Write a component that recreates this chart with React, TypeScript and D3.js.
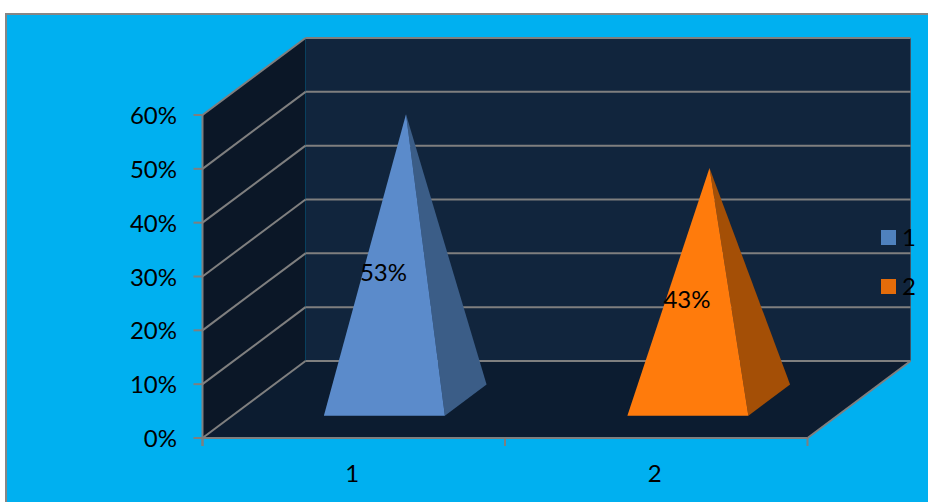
import React from "react";
import * as d3 from "d3";

const categories = ["1", "2"];
const values = [0.53, 0.43];
const valueLabels = ["53%", "43%"];
const yTicks = [0, 0.1, 0.2, 0.3, 0.4, 0.5, 0.6];
const frontFaces = ["#5B8BCB", "#FF7B0C"];
const sideFaces = ["#3B5D87", "#A44F06"];
const legendSwatches = ["#4F81BD", "#E46C0A"];

const WIDTH = 928;
const HEIGHT = 502;
const FONT = "Lato, 'Noto Sans', sans-serif";
const FONT_SIZE = 24;
const GRID = "#7F7F7F";

// Oblique projection: depth 0 is the front of the box, depth 1 the back wall.
const DEPTH_X = 103;
const DEPTH_Y = -77;
const x = d3.scaleBand<string>().domain(categories).range([202.5, 807.5]);
// Pyramids sit slightly off the axis band centres.
const xPyramid = d3.scaleBand<string>().domain(categories).range([202.75, 809.75]);
const y = d3.scaleLinear().domain([0, 0.6]).range([438, 115]);
const project = (px: number, py: number, depth: number): [number, number] => [
  px + depth * DEPTH_X,
  py + depth * DEPTH_Y,
];
const poly = (pts: [number, number][]) => (d3.line()(pts) ?? "") + "Z";

const BASE_HALF_WIDTH = 60.5;
const BASE_FRONT = 0.29;
const BASE_BACK = 0.695;
const BASE_MID = 0.5;

function Pyramid({ index }: { index: number }) {
  const cx = (xPyramid(categories[index]) ?? 0) + xPyramid.bandwidth() / 2;
  const frontLeft = project(cx - BASE_HALF_WIDTH, y(0), BASE_FRONT);
  const frontRight = project(cx + BASE_HALF_WIDTH, y(0), BASE_FRONT);
  const backRight = project(cx + BASE_HALF_WIDTH, y(0), BASE_BACK);
  const apex = project(cx, y(values[index]), BASE_MID);
  return (
    <g>
      <path d={poly([frontRight, backRight, apex])} fill={sideFaces[index]} />
      <path d={poly([frontLeft, frontRight, apex])} fill={frontFaces[index]} />
      <text
        x={cx + 29}
        y={(apex[1] + frontLeft[1]) / 2 + 16.5}
        textAnchor="middle"
        fontSize={FONT_SIZE}
        fontFamily={FONT}
        fill="#000"
      >
        {valueLabels[index]}
      </text>
    </g>
  );
}

export default function App() {
  const [x0, x1] = x.range();
  const y0 = y(0);
  const yTop = y(0.6);
  const back = (px: number, py: number) => project(px, py, 1);
  const tickPositions = [x0, (x0 + x1) / 2, x1];

  return (
    <svg
      width={WIDTH}
      height={HEIGHT}
      style={{ position: "fixed", left: 0, top: 0, display: "block", background: "#fff" }}
    >
      {/* panel */}
      <rect x={6} y={14} width={WIDTH} height={HEIGHT} fill="#00B0F0" stroke="#868686" strokeWidth={2} />

      {/* box walls and floor */}
      <path d={poly([back(x0, yTop), back(x1, yTop), back(x1, y0), back(x0, y0)])} fill="#11253D" />
      <path d={poly([[x0, yTop], back(x0, yTop), back(x0, y0), [x0, y0]])} fill="#0B1727" />
      <path d={poly([[x0, y0], [x1, y0], back(x1, y0), back(x0, y0)])} fill="#0C1C30" />
      <line
        x1={back(x1, yTop)[0]}
        y1={back(x1, yTop)[1]}
        x2={back(x1, y0)[0]}
        y2={back(x1, y0)[1]}
        stroke="#3F5468"
        strokeWidth={1}
      />

      {/* gridlines run along the side wall and across the back wall */}
      {yTicks.map((t) => {
        const b = back(x0, y(t));
        const e = back(x1, y(t));
        return (
          <g key={t} stroke={GRID} fill="none">
            <line x1={x0 - 9} x2={x0} y1={y(t)} y2={y(t)} strokeWidth={2} />
            <path d={d3.line()([[x0, y(t)], b]) ?? ""} strokeWidth={2} />
            <path d={d3.line()([b, e]) ?? ""} strokeWidth={2} />
          </g>
        );
      })}

      {/* axes */}
      <g stroke={GRID} fill="none">
        <line x1={x0} x2={x0} y1={yTop} y2={y0 + 8} strokeWidth={2} />
        <line x1={x0} x2={x1} y1={y0} y2={y0} strokeWidth={2} />
        <path d={d3.line()([[x1, y0], back(x1, y0)]) ?? ""} strokeWidth={2} />
        {tickPositions.map((p) => (
          <line key={p} x1={p} x2={p} y1={y0} y2={y0 + 8} strokeWidth={2} />
        ))}
      </g>

      {/* value axis labels */}
      {yTicks.map((t) => (
        <text
          key={t}
          x={177}
          y={y(t) + 9}
          textAnchor="end"
          fontSize={FONT_SIZE}
          fontFamily={FONT}
          fill="#000"
        >
          {d3.format(".0%")(t)}
        </text>
      ))}

      {categories.map((_, i) => (
        <Pyramid key={i} index={i} />
      ))}

      {/* category labels */}
      {categories.map((c) => (
        <text
          key={c}
          x={(x(c) ?? 0) + x.bandwidth() / 2 - 1.5}
          y={481.5}
          textAnchor="middle"
          fontSize={FONT_SIZE}
          fontFamily={FONT}
          fill="#000"
        >
          {c}
        </text>
      ))}

      {/* legend */}
      {categories.map((c, i) => (
        <g key={c} transform={`translate(881,${230 + i * 49})`}>
          <rect width={15} height={15} fill={legendSwatches[i]} />
          <text x={21} y={16} fontSize={FONT_SIZE} fontFamily={FONT} fill="#000">
            {c}
          </text>
        </g>
      ))}
    </svg>
  );
}
